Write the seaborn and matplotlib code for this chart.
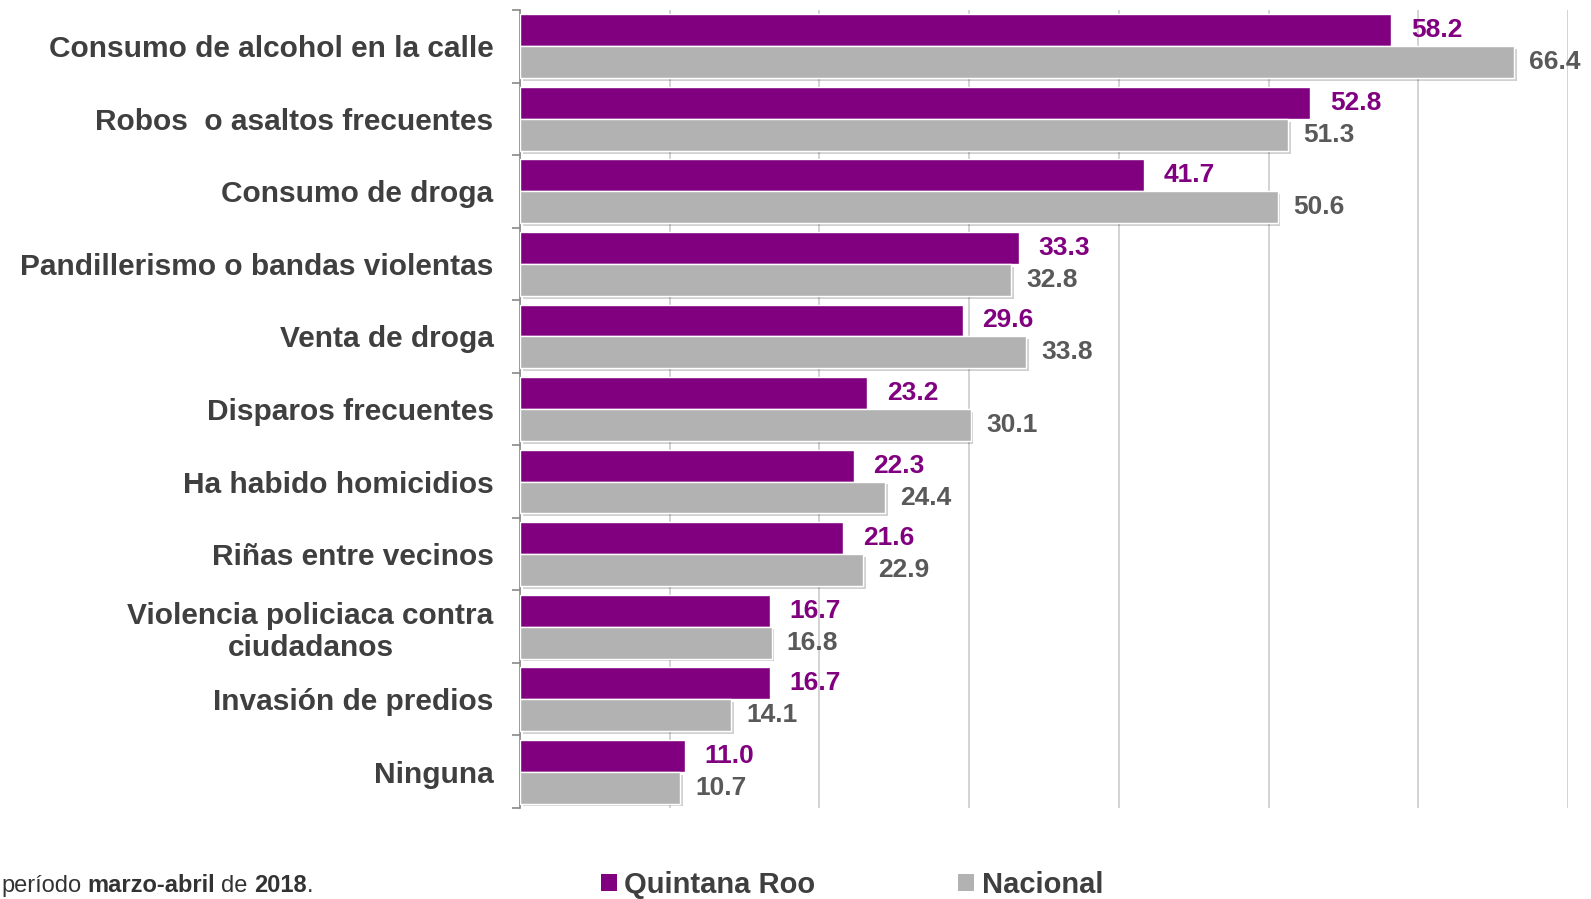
import numpy as np
import pandas as pd
import matplotlib
matplotlib.use("Agg")
import matplotlib.pyplot as plt
import matplotlib.patheffects as pe
from matplotlib.patches import Patch
import seaborn as sns

# Data
categorias = [
    "Consumo de alcohol en la calle",
    "Robos  o asaltos frecuentes",
    "Consumo de droga",
    "Pandillerismo o bandas violentas",
    "Venta de droga",
    "Disparos frecuentes",
    "Ha habido homicidios",
    "Riñas entre vecinos",
    "Violencia policiaca contra\nciudadanos",
    "Invasión de predios",
    "Ninguna",
]
quintana_roo = [58.2, 52.8, 41.7, 33.3, 29.6, 23.2, 22.3, 21.6, 16.7, 16.7, 11.0]
nacional = [66.4, 51.3, 50.6, 32.8, 33.8, 30.1, 24.4, 22.9, 16.8, 14.1, 10.7]
series = ["Quintana Roo", "Nacional"]

PURPLE = "#800080"
GRAY = "#B2B2B2"
TEXT = "#3F3F3F"

df = pd.DataFrame({
    "categoria": categorias * 2,
    "valor": quintana_roo + nacional,
    "serie": [series[0]] * len(categorias) + [series[1]] * len(categorias),
})

sns.set_theme(style="white")
plt.rcParams["font.family"] = ["Liberation Sans", "DejaVu Sans"]

fig = plt.figure(figsize=(15.91, 8.99), dpi=100)
ax = fig.add_axes([520 / 1591, 1 - 808 / 899, (1568 - 520) / 1591, (808 - 10) / 899])

sns.barplot(data=df, y="categoria", x="valor", hue="serie", orient="h",
            palette=[PURPLE, GRAY], width=0.88, saturation=1, legend=False,
            ax=ax, zorder=3)

shadow = [pe.SimplePatchShadow(offset=(2, -2), shadow_rgbFace="#000000", alpha=0.18), pe.Normal()]
for p in ax.containers[1]:
    p.set_path_effects(shadow)

ax.bar_label(ax.containers[0], fmt="%.1f", padding=14, color=PURPLE,
             fontsize=19, fontweight="bold")
ax.bar_label(ax.containers[1], fmt="%.1f", padding=11, color="#595959",
             fontsize=19, fontweight="bold")

ax.set_xlim(0, 70)
ax.set_ylim(len(categorias) - 0.5, -0.5)
ax.set_xticks(np.arange(0, 71, 10))
ax.set_xticklabels([])
ax.tick_params(axis="x", length=0)
ax.grid(axis="x", color="#D0D0D0", linewidth=1.3, zorder=0)
ax.grid(axis="y", visible=False)
ax.set_axisbelow(True)

ax.set_yticks(np.arange(-0.5, len(categorias), 1.0), minor=True)
ax.tick_params(axis="y", which="major", length=0, pad=19, labelsize=21.5, labelcolor=TEXT)
ax.tick_params(axis="y", which="minor", length=6, width=1.2, color="#898989", left=True, direction="out")
for lbl in ax.get_yticklabels():
    lbl.set_fontweight("bold")
    lbl.set_multialignment("center")

ax.set_xlabel("")
ax.set_ylabel("")
for s in ["top", "right", "bottom"]:
    ax.spines[s].set_visible(False)
ax.spines["left"].set_color("#898989")
ax.spines["left"].set_linewidth(1.2)

# Legend
handles = [Patch(facecolor=PURPLE, edgecolor="none"), Patch(facecolor=GRAY, edgecolor="none")]
leg = fig.legend(handles, series, loc="center", bbox_to_anchor=(852 / 1591, 1 - 885 / 899),
                 ncol=2, frameon=False, handlelength=0.55, handleheight=0.55,
                 handletextpad=0.25, columnspacing=4.9,
                 prop={"size": 21, "weight": "bold"})
for t in leg.get_texts():
    t.set_color(TEXT)

# Footnote
fs = 17
t1 = fig.text(1 / 1591, 1 - 892 / 899, "período", fontsize=fs, color="#333333", va="baseline")
t2 = ax.annotate("marzo-abril", xy=(1, 0), xycoords=t1, xytext=(4.5, 0), textcoords="offset points",
                 va="bottom", fontsize=fs, fontweight="bold", color="#333333", annotation_clip=False)
t3 = ax.annotate("de", xy=(1, 0), xycoords=t2, xytext=(4.5, 0), textcoords="offset points",
                 va="bottom", fontsize=fs, color="#333333", annotation_clip=False)
t4 = ax.annotate("2018", xy=(1, 0), xycoords=t3, xytext=(4.5, 0), textcoords="offset points",
                 va="bottom", fontsize=fs, fontweight="bold", color="#333333", annotation_clip=False)
t5 = ax.annotate(".", xy=(1, 0), xycoords=t4, xytext=(0, 0), textcoords="offset points",
                 va="bottom", fontsize=fs, color="#333333", annotation_clip=False)

fig.savefig("out.png", dpi=100)
